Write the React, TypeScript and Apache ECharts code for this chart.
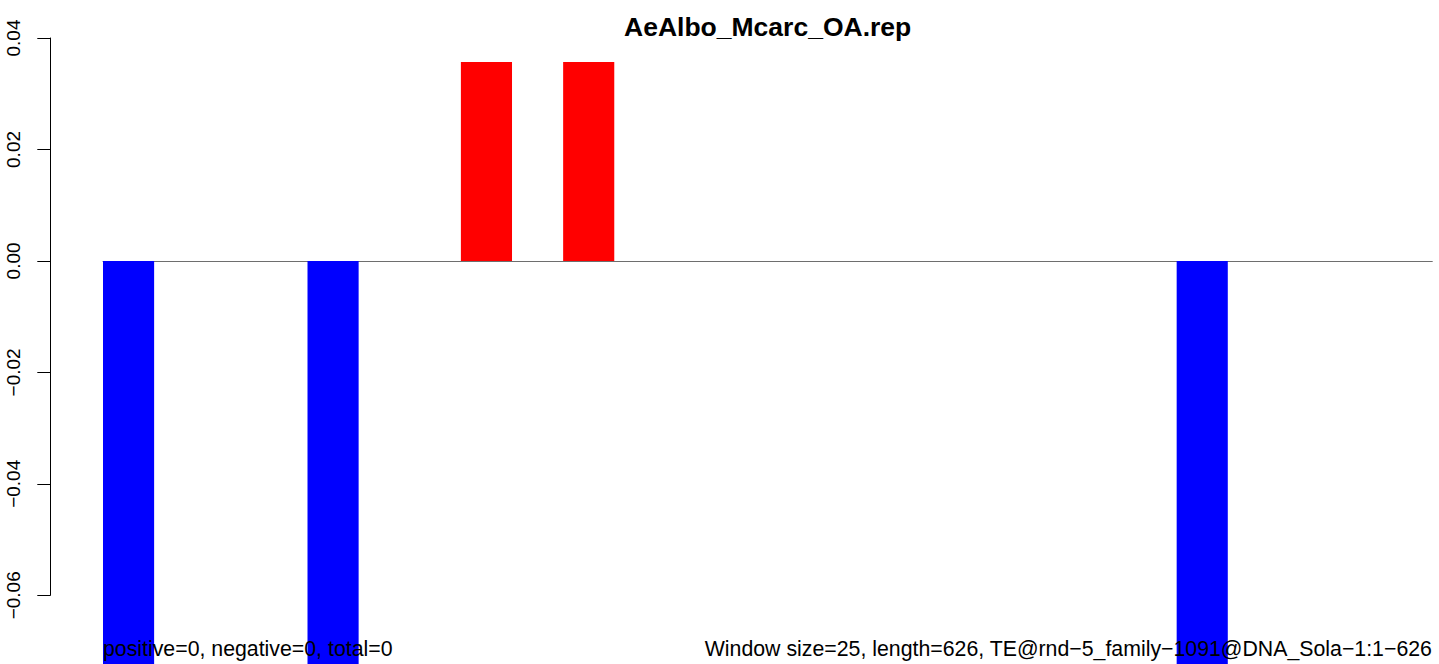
import React, { useEffect, useRef } from "react";
import * as echarts from "echarts";

const TITLE = "AeAlbo_Mcarc_OA.rep";
const LEFT_NOTE = "positive=0, negative=0, total=0";
const RIGHT_NOTE = "Window size=25, length=626, TE@rnd\u22125_family\u22121091@DNA_Sola\u22121:1\u2212626";

// 26 windows along the element
const windows: string[] = Array.from({ length: 26 }, (_, i) => String(i + 1));
const values: number[] = [
  -0.075, 0, 0, 0, -0.075, 0, 0, 0.0357, 0, 0.0357,
  0, 0, 0, 0, 0, 0, 0, 0, 0, 0,
  0, -0.075, 0, 0, 0, 0,
];
const yTicks = { min: -0.06, max: 0.04, interval: 0.02 };
const POS_COLOR = "#ff0000";
const NEG_COLOR = "#0000ff";

const FONT = "'Liberation Sans', Arial, Helvetica, sans-serif";

export default function App() {
  const ref = useRef<HTMLDivElement>(null);
  useEffect(() => {
    if (!ref.current) return;
    const chart = echarts.init(ref.current, null, { renderer: "svg" });
    const plotLeft = 103;
    const plotWidth = 1329.3;
    chart.setOption({
      animation: false,
      backgroundColor: "#ffffff",
      title: {
        text: TITLE,
        left: plotLeft + plotWidth / 2,
        textAlign: "center",
        top: 13,
        padding: 0,
        textStyle: { fontFamily: FONT, fontWeight: "bold", fontSize: 26.5, color: "#000" },
      },
      grid: { left: plotLeft, width: plotWidth, top: 38, height: 557.3 },
      xAxis: {
        type: "category",
        data: windows,
        boundaryGap: true,
        axisLine: { show: true, onZero: true, lineStyle: { color: "#6e6e6e", width: 1 } },
        axisTick: { show: false },
        axisLabel: { show: false },
        splitLine: { show: false },
      },
      yAxis: {
        type: "value",
        min: yTicks.min,
        max: yTicks.max,
        interval: yTicks.interval,
        position: "left",
        offset: 52.7,
        axisLine: { show: true, lineStyle: { color: "#000", width: 1 } },
        axisTick: { show: true, inside: false, length: 13, lineStyle: { color: "#000", width: 1 } },
        splitLine: { show: false },
        axisLabel: {
          rotate: 90,
          margin: 27,
          fontFamily: FONT,
          fontSize: 19,
          color: "#000",
          formatter: (v: number) => {
            const s = Math.abs(v).toFixed(2);
            return v < -1e-9 ? "\u2212" + s : s;
          },
        },
      },
      series: [
        {
          type: "bar",
          clip: false,
          barWidth: "100%",
          barCategoryGap: "0%",
          data: values.map((v) => ({
            value: v,
            itemStyle: { color: v >= 0 ? POS_COLOR : NEG_COLOR },
          })),
          z: 1,
        },
      ],
      graphic: [
        {
          type: "text",
          left: plotLeft,
          top: 638,
          z: 100,
          style: { text: LEFT_NOTE, font: `21.3px ${FONT}`, fill: "#000" },
        },
        {
          type: "text",
          right: 1439 - (plotLeft + plotWidth),
          top: 638,
          z: 100,
          style: { text: RIGHT_NOTE, font: `21.3px ${FONT}`, fill: "#000" },
        },
      ],
    });
    return () => chart.dispose();
  }, []);
  return (
    <div
      ref={ref}
      style={{ position: "fixed", left: 0, top: 0, width: 1439, height: 664, overflow: "hidden" }}
    />
  );
}
